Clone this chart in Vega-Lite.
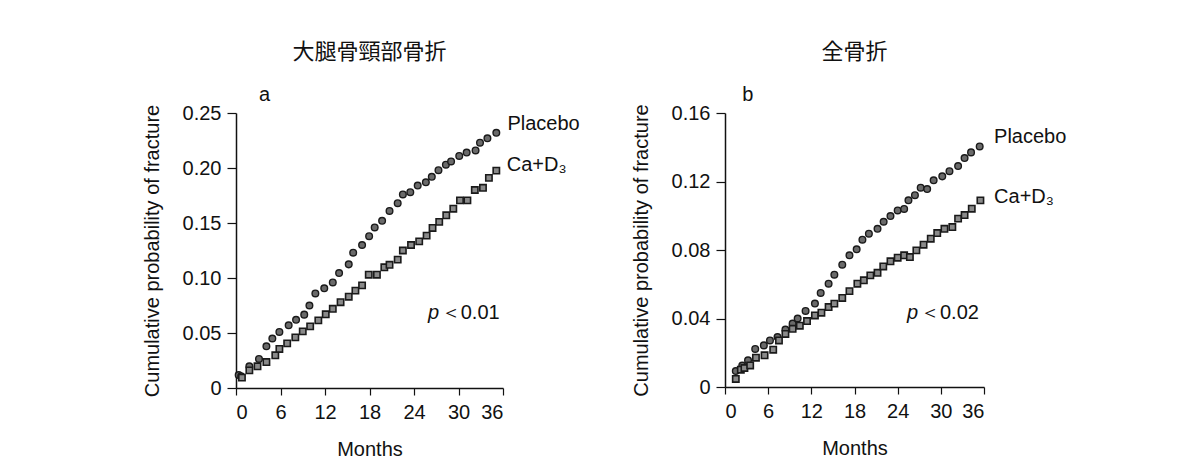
{
  "$schema": "https://vega.github.io/schema/vega-lite/v6.json",
  "background": "white",
  "padding": {"left": 142, "top": 41, "right": 0, "bottom": 0},
  "config": {
    "view": {"stroke": null},
    "font": "Liberation Sans",
    "axis": {"domainColor": "#111", "tickColor": "#111", "labelColor": "#111", "titleColor": "#111", "labelFont": "Liberation Sans", "titleFont": "Liberation Sans", "grid": false, "titleFontWeight": "normal", "domainWidth": 1.5, "tickWidth": 1.2},
    "title": {"font": "Noto Sans CJK JP", "fontSize": 22, "fontWeight": "normal", "color": "#111", "anchor": "middle"}
  },
  "datasets": {
    "hip": [
      {"group": "Placebo", "month": 0.36, "p": 0.0118},
      {"group": "Placebo", "month": 0.7, "p": 0.0106},
      {"group": "Placebo", "month": 1.8, "p": 0.0197},
      {"group": "Placebo", "month": 3.1, "p": 0.0264},
      {"group": "Placebo", "month": 4.1, "p": 0.0379},
      {"group": "Placebo", "month": 4.9, "p": 0.045},
      {"group": "Placebo", "month": 5.85, "p": 0.051},
      {"group": "Placebo", "month": 7.1, "p": 0.057},
      {"group": "Placebo", "month": 8.1, "p": 0.062},
      {"group": "Placebo", "month": 9.2, "p": 0.0667},
      {"group": "Placebo", "month": 9.9, "p": 0.075},
      {"group": "Placebo", "month": 10.7, "p": 0.086},
      {"group": "Placebo", "month": 11.9, "p": 0.0906},
      {"group": "Placebo", "month": 13.05, "p": 0.096},
      {"group": "Placebo", "month": 13.9, "p": 0.1045},
      {"group": "Placebo", "month": 15.2, "p": 0.1124},
      {"group": "Placebo", "month": 15.8, "p": 0.123},
      {"group": "Placebo", "month": 17.0, "p": 0.13},
      {"group": "Placebo", "month": 17.95, "p": 0.138},
      {"group": "Placebo", "month": 18.7, "p": 0.146},
      {"group": "Placebo", "month": 19.7, "p": 0.152},
      {"group": "Placebo", "month": 20.7, "p": 0.161},
      {"group": "Placebo", "month": 21.8, "p": 0.168},
      {"group": "Placebo", "month": 22.5, "p": 0.176},
      {"group": "Placebo", "month": 23.5, "p": 0.178},
      {"group": "Placebo", "month": 24.5, "p": 0.184},
      {"group": "Placebo", "month": 25.6, "p": 0.187},
      {"group": "Placebo", "month": 26.4, "p": 0.192},
      {"group": "Placebo", "month": 27.3, "p": 0.198},
      {"group": "Placebo", "month": 28.3, "p": 0.203},
      {"group": "Placebo", "month": 29.0, "p": 0.206},
      {"group": "Placebo", "month": 30.1, "p": 0.211},
      {"group": "Placebo", "month": 31.1, "p": 0.214},
      {"group": "Placebo", "month": 32.3, "p": 0.216},
      {"group": "Placebo", "month": 32.9, "p": 0.223},
      {"group": "Placebo", "month": 33.9, "p": 0.227},
      {"group": "Placebo", "month": 35.1, "p": 0.232},
      {"group": "Ca+D3", "month": 0.8, "p": 0.0094},
      {"group": "Ca+D3", "month": 1.8, "p": 0.016},
      {"group": "Ca+D3", "month": 2.9, "p": 0.0197},
      {"group": "Ca+D3", "month": 4.1, "p": 0.0236},
      {"group": "Ca+D3", "month": 5.3, "p": 0.0297},
      {"group": "Ca+D3", "month": 5.85, "p": 0.0355},
      {"group": "Ca+D3", "month": 6.9, "p": 0.0406},
      {"group": "Ca+D3", "month": 8.0, "p": 0.046},
      {"group": "Ca+D3", "month": 9.0, "p": 0.0515},
      {"group": "Ca+D3", "month": 10.0, "p": 0.056},
      {"group": "Ca+D3", "month": 11.1, "p": 0.0615},
      {"group": "Ca+D3", "month": 12.1, "p": 0.067},
      {"group": "Ca+D3", "month": 13.05, "p": 0.072},
      {"group": "Ca+D3", "month": 14.1, "p": 0.078},
      {"group": "Ca+D3", "month": 15.2, "p": 0.083},
      {"group": "Ca+D3", "month": 16.1, "p": 0.0885},
      {"group": "Ca+D3", "month": 17.0, "p": 0.0933},
      {"group": "Ca+D3", "month": 17.9, "p": 0.103},
      {"group": "Ca+D3", "month": 19.0, "p": 0.103},
      {"group": "Ca+D3", "month": 20.0, "p": 0.1097},
      {"group": "Ca+D3", "month": 20.7, "p": 0.112},
      {"group": "Ca+D3", "month": 21.8, "p": 0.1167},
      {"group": "Ca+D3", "month": 22.5, "p": 0.125},
      {"group": "Ca+D3", "month": 23.6, "p": 0.13},
      {"group": "Ca+D3", "month": 24.7, "p": 0.1333},
      {"group": "Ca+D3", "month": 25.7, "p": 0.1385},
      {"group": "Ca+D3", "month": 26.5, "p": 0.1455},
      {"group": "Ca+D3", "month": 27.4, "p": 0.151},
      {"group": "Ca+D3", "month": 28.35, "p": 0.157},
      {"group": "Ca+D3", "month": 29.3, "p": 0.163},
      {"group": "Ca+D3", "month": 30.2, "p": 0.1706},
      {"group": "Ca+D3", "month": 31.2, "p": 0.1706},
      {"group": "Ca+D3", "month": 32.2, "p": 0.18},
      {"group": "Ca+D3", "month": 33.3, "p": 0.182},
      {"group": "Ca+D3", "month": 34.1, "p": 0.191},
      {"group": "Ca+D3", "month": 35.1, "p": 0.1976}
    ],
    "all": [
      {"group": "Placebo", "month": 1.5, "p": 0.0093},
      {"group": "Placebo", "month": 2.4, "p": 0.0125},
      {"group": "Placebo", "month": 3.2, "p": 0.0156},
      {"group": "Placebo", "month": 4.2, "p": 0.0222},
      {"group": "Placebo", "month": 5.4, "p": 0.0243},
      {"group": "Placebo", "month": 6.25, "p": 0.0272},
      {"group": "Placebo", "month": 7.3, "p": 0.0292},
      {"group": "Placebo", "month": 8.4, "p": 0.0335},
      {"group": "Placebo", "month": 9.4, "p": 0.037},
      {"group": "Placebo", "month": 10.1, "p": 0.04},
      {"group": "Placebo", "month": 11.2, "p": 0.0444},
      {"group": "Placebo", "month": 12.5, "p": 0.0487},
      {"group": "Placebo", "month": 13.3, "p": 0.0549},
      {"group": "Placebo", "month": 14.4, "p": 0.0603},
      {"group": "Placebo", "month": 15.2, "p": 0.0656},
      {"group": "Placebo", "month": 16.3, "p": 0.0714},
      {"group": "Placebo", "month": 17.3, "p": 0.0769},
      {"group": "Placebo", "month": 18.3, "p": 0.0804},
      {"group": "Placebo", "month": 19.1, "p": 0.086},
      {"group": "Placebo", "month": 20.0, "p": 0.0895},
      {"group": "Placebo", "month": 21.2, "p": 0.0924},
      {"group": "Placebo", "month": 22.05, "p": 0.0965},
      {"group": "Placebo", "month": 23.0, "p": 0.0998},
      {"group": "Placebo", "month": 24.0, "p": 0.1031},
      {"group": "Placebo", "month": 24.9, "p": 0.104},
      {"group": "Placebo", "month": 25.5, "p": 0.109},
      {"group": "Placebo", "month": 26.4, "p": 0.112},
      {"group": "Placebo", "month": 27.2, "p": 0.1164},
      {"group": "Placebo", "month": 28.1, "p": 0.1156},
      {"group": "Placebo", "month": 29.0, "p": 0.1207},
      {"group": "Placebo", "month": 30.2, "p": 0.123},
      {"group": "Placebo", "month": 31.2, "p": 0.126},
      {"group": "Placebo", "month": 32.4, "p": 0.129},
      {"group": "Placebo", "month": 33.3, "p": 0.1337},
      {"group": "Placebo", "month": 34.2, "p": 0.137},
      {"group": "Placebo", "month": 35.4, "p": 0.1405},
      {"group": "Ca+D3", "month": 1.5, "p": 0.0047},
      {"group": "Ca+D3", "month": 2.2, "p": 0.0101},
      {"group": "Ca+D3", "month": 2.7, "p": 0.0111},
      {"group": "Ca+D3", "month": 3.5, "p": 0.0126},
      {"group": "Ca+D3", "month": 4.3, "p": 0.0171},
      {"group": "Ca+D3", "month": 5.5, "p": 0.0185},
      {"group": "Ca+D3", "month": 6.7, "p": 0.0218},
      {"group": "Ca+D3", "month": 7.5, "p": 0.0272},
      {"group": "Ca+D3", "month": 8.4, "p": 0.031},
      {"group": "Ca+D3", "month": 9.4, "p": 0.034},
      {"group": "Ca+D3", "month": 10.4, "p": 0.0358},
      {"group": "Ca+D3", "month": 11.4, "p": 0.0385},
      {"group": "Ca+D3", "month": 12.5, "p": 0.0418},
      {"group": "Ca+D3", "month": 13.4, "p": 0.0434},
      {"group": "Ca+D3", "month": 14.4, "p": 0.0467},
      {"group": "Ca+D3", "month": 15.2, "p": 0.0487},
      {"group": "Ca+D3", "month": 16.3, "p": 0.052},
      {"group": "Ca+D3", "month": 17.3, "p": 0.056},
      {"group": "Ca+D3", "month": 18.4, "p": 0.0603},
      {"group": "Ca+D3", "month": 19.3, "p": 0.0623},
      {"group": "Ca+D3", "month": 20.2, "p": 0.0652},
      {"group": "Ca+D3", "month": 21.2, "p": 0.0667},
      {"group": "Ca+D3", "month": 22.0, "p": 0.0704},
      {"group": "Ca+D3", "month": 23.0, "p": 0.0734},
      {"group": "Ca+D3", "month": 24.0, "p": 0.0755},
      {"group": "Ca+D3", "month": 24.9, "p": 0.0769},
      {"group": "Ca+D3", "month": 25.7, "p": 0.0759},
      {"group": "Ca+D3", "month": 26.6, "p": 0.0798},
      {"group": "Ca+D3", "month": 27.6, "p": 0.0831},
      {"group": "Ca+D3", "month": 28.6, "p": 0.0866},
      {"group": "Ca+D3", "month": 29.5, "p": 0.0899},
      {"group": "Ca+D3", "month": 30.5, "p": 0.0924},
      {"group": "Ca+D3", "month": 31.6, "p": 0.0934},
      {"group": "Ca+D3", "month": 32.4, "p": 0.0983},
      {"group": "Ca+D3", "month": 33.3, "p": 0.1004},
      {"group": "Ca+D3", "month": 34.3, "p": 0.1041},
      {"group": "Ca+D3", "month": 35.5, "p": 0.109}
    ],
    "labA": [
      {"month": 36.6, "p": 0.24, "t": "Placebo"},
      {"month": 36.5, "p": 0.203, "t": "Ca+D₃"}
    ],
    "labB": [
      {"month": 37.4, "p": 0.146, "t": "Placebo"},
      {"month": 37.4, "p": 0.111, "t": "Ca+D₃"}
    ],
    "panA": [{"month": 3.1, "p": 0.266, "t": "a"}],
    "panB": [{"month": 2.4, "p": 0.1705, "t": "b"}],
    "pA1": [{"month": 25.9, "p": 0.068, "t": "p"}],
    "pA2": [{"month": 27.6, "p": 0.068, "t": "＜0.01"}],
    "pB1": [{"month": 25.3, "p": 0.043, "t": "p"}],
    "pB2": [{"month": 27.1, "p": 0.043, "t": "＜0.02"}]
  },
  "hconcat": [
    {
      "title": {"text": "大腿骨頸部骨折", "offset": 21},
      "width": 267,
      "height": 275,
      "encoding": {
        "x": {"field": "month", "type": "quantitative", "scale": {"domain": [0, 36], "nice": false, "zero": false},
          "axis": {"title": "Months", "values": [0, 6, 12, 18, 24, 30, 36], "labelFontSize": 20, "titleFontSize": 20, "tickSize": 7, "labelPadding": 7, "titlePadding": 17}},
        "y": {"field": "p", "type": "quantitative", "scale": {"domain": [0, 0.25], "nice": false},
          "axis": {"title": "Cumulative probability of fracture", "values": [0, 0.05, 0.1, 0.15, 0.2, 0.25], "labelExpr": "datum.value == 0 ? '0' : format(datum.value, '.2f')", "labelFontSize": 20, "titleFontSize": 20, "tickSize": 9, "labelPadding": 6, "titlePadding": 20}}
      },
      "layer": [
        {"data": {"name": "hip"}, "transform": [{"filter": "datum.group == 'Placebo'"}],
          "mark": {"type": "point", "shape": "circle", "filled": true, "size": 44, "color": "#6a6a6a", "stroke": "#1a1a1a", "strokeWidth": 1.4, "opacity": 1}},
        {"data": {"name": "hip"}, "transform": [{"filter": "datum.group == 'Ca+D3'"}],
          "mark": {"type": "point", "shape": "square", "filled": true, "size": 40, "color": "#8a8a8a", "stroke": "#1a1a1a", "strokeWidth": 1.6, "opacity": 1}},
        {"data": {"name": "labA"}, "mark": {"type": "text", "align": "left", "baseline": "middle", "fontSize": 20, "color": "#111"}, "encoding": {"text": {"field": "t"}}},
        {"data": {"name": "panA"}, "mark": {"type": "text", "align": "left", "baseline": "middle", "fontSize": 20, "color": "#111"}, "encoding": {"text": {"field": "t"}}},
        {"data": {"name": "pA1"}, "mark": {"type": "text", "align": "left", "baseline": "middle", "fontSize": 20, "fontStyle": "italic", "color": "#111"}, "encoding": {"text": {"field": "t"}}},
        {"data": {"name": "pA2"}, "mark": {"type": "text", "align": "left", "baseline": "middle", "fontSize": 20, "color": "#111"}, "encoding": {"text": {"field": "t"}}}
      ]
    },
    {
      "title": {"text": "全骨折", "offset": 21},
      "width": 259,
      "height": 274,
      "encoding": {
        "x": {"field": "month", "type": "quantitative", "scale": {"domain": [0, 36], "nice": false, "zero": false},
          "axis": {"title": "Months", "values": [0, 6, 12, 18, 24, 30, 36], "labelFontSize": 20, "titleFontSize": 20, "tickSize": 7, "labelPadding": 7, "titlePadding": 17}},
        "y": {"field": "p", "type": "quantitative", "scale": {"domain": [0, 0.16], "nice": false},
          "axis": {"title": "Cumulative probability of fracture", "values": [0, 0.04, 0.08, 0.12, 0.16], "labelExpr": "datum.value == 0 ? '0' : format(datum.value, '.2f')", "labelFontSize": 20, "titleFontSize": 20, "tickSize": 9, "labelPadding": 6, "titlePadding": 20}}
      },
      "layer": [
        {"data": {"name": "all"}, "transform": [{"filter": "datum.group == 'Placebo'"}],
          "mark": {"type": "point", "shape": "circle", "filled": true, "size": 44, "color": "#6a6a6a", "stroke": "#1a1a1a", "strokeWidth": 1.4, "opacity": 1}},
        {"data": {"name": "all"}, "transform": [{"filter": "datum.group == 'Ca+D3'"}],
          "mark": {"type": "point", "shape": "square", "filled": true, "size": 40, "color": "#8a8a8a", "stroke": "#1a1a1a", "strokeWidth": 1.6, "opacity": 1}},
        {"data": {"name": "labB"}, "mark": {"type": "text", "align": "left", "baseline": "middle", "fontSize": 20, "color": "#111"}, "encoding": {"text": {"field": "t"}}},
        {"data": {"name": "panB"}, "mark": {"type": "text", "align": "left", "baseline": "middle", "fontSize": 20, "color": "#111"}, "encoding": {"text": {"field": "t"}}},
        {"data": {"name": "pB1"}, "mark": {"type": "text", "align": "left", "baseline": "middle", "fontSize": 20, "fontStyle": "italic", "color": "#111"}, "encoding": {"text": {"field": "t"}}},
        {"data": {"name": "pB2"}, "mark": {"type": "text", "align": "left", "baseline": "middle", "fontSize": 20, "color": "#111"}, "encoding": {"text": {"field": "t"}}}
      ]
    }
  ],
  "spacing": 51
}
